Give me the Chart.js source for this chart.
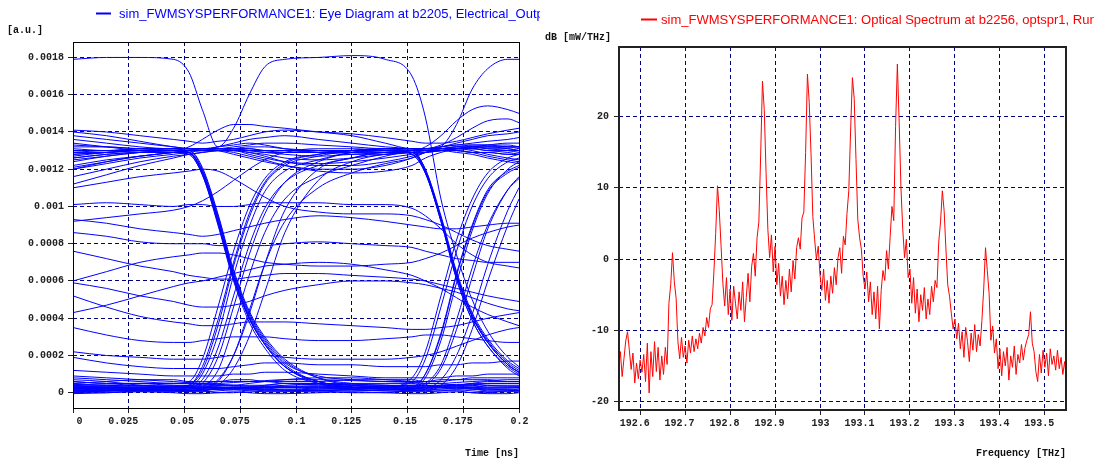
<!DOCTYPE html>
<html>
<head>
<meta charset="utf-8">
<script src="https://cdn.jsdelivr.net/npm/chart.js@4.4.1/dist/chart.umd.min.js"></script>
<style>
  html, body { margin: 0; padding: 0; background: #fff; }
  #wrap { position: relative; width: 1094px; height: 464px; overflow: hidden; }
  #eyeChart { position: absolute; left: 0; top: 0; }
  #specChart { position: absolute; left: 540px; top: 0; }
</style>
</head>
<body>
<div id="wrap">
  <canvas id="eyeChart" width="540" height="464"></canvas>
  <canvas id="specChart" width="554" height="464"></canvas>
</div>
<script>
// ---- eye diagram data (levels in units of 1e-4 a.u.) ----
const eyeTitle = 'sim_FWMSYSPERFORMANCE1: Eye Diagram at b2205, Electrical_Output, Run 1';
const eyeTimeTicks = [0, 0.025, 0.05, 0.075, 0.1, 0.125, 0.15, 0.175, 0.2];
const eyeLevelTicks = [0, 2, 4, 6, 8, 10, 12, 14, 16, 18];
const eyeLevelLabels = ['0', '0.0002', '0.0004', '0.0006', '0.0008', '0.001', '0.0012', '0.0014', '0.0016', '0.0018'];
const eyeTime = [0, 0.015, 0.03, 0.045, 0.052, 0.058, 0.065, 0.072, 0.079, 0.086, 0.095,
                 0.11, 0.125, 0.14, 0.152, 0.158, 0.165, 0.172, 0.179, 0.186, 0.195, 0.2];

const eyeTraces = [
  // "1" held through both slots
  [12.5,12.7,12.9,13.0, 13.0,13.1,13.1,13.1,13.1,13.0,12.9, 12.9,13.0,13.1, 13.1,13.1,13.1,13.1,13.1,13.0,13.0,13.0],
  [13.6,13.4,13.2,13.1, 13.1,13.1,13.1,13.2,13.3,13.4,13.4, 13.3,13.2,13.1, 13.1,13.1,13.2,13.3,13.4,13.5,13.6,13.7],
  [11.6,12.0,12.4,12.7, 12.8,12.9,13.0,13.0,12.9,12.8,12.6, 12.5,12.6,12.8, 12.9,13.0,13.0,12.9,12.8,12.6,12.4,12.3],
  [14.0,13.8,13.5,13.2, 13.1,13.0,13.0,13.0,12.9,12.7,12.4, 12.2,12.2,12.4, 12.7,12.9,13.0,13.1,13.2,13.3,13.4,13.4],
  [12.2,12.5,12.7,12.9, 13.0,13.0,13.2,13.4,13.6,13.7,13.8, 13.6,13.4,13.2, 13.1,13.0,13.0,13.0,12.9,12.9,12.8,12.8],
  [12.9,13.0,13.0,13.1, 13.1,13.1,13.0,12.8,12.6,12.4,12.2, 12.0,12.0,12.2, 12.6,12.9,13.1,13.2,13.3,13.3,13.3,13.2],
  [11.2,11.7,12.2,12.6, 12.8,12.9,13.0,13.1,13.2,13.2,13.1, 13.0,12.9,12.9, 13.0,13.0,13.1,13.2,13.2,13.1,13.0,12.9],
  [13.2,13.2,13.1,13.1, 13.0,13.0,13.0,12.9,12.7,12.5,12.2, 11.9,11.8,11.9, 12.2,12.6,12.9,13.1,13.2,13.2,13.2,13.1],
  [12.0,12.3,12.6,12.8, 12.9,13.0,13.0,13.0,12.8,12.6,12.4, 12.3,12.4,12.6, 12.8,12.9,13.0,13.0,12.9,12.7,12.5,12.4],
  [13.8,13.6,13.4,13.2, 13.1,13.1,13.2,13.3,13.4,13.3,13.1, 12.9,12.8,12.8, 12.9,13.0,13.1,13.1,13.0,12.8,12.6,12.5],
  // falling edge in the first slot
  [12.6,12.8,12.9,12.9, 12.9,11.9,9.3,6.3,4.1,2.7,1.5, 0.6,0.4,0.3, 0.3,0.3,0.4,0.4,0.5,0.5,0.5,0.5],
  [13.1,13.0,13.0,13.0, 12.9,11.8,9.2,6.2,4.0,2.6,1.4, 0.6,0.3,0.2, 0.3,1.0,3.2,6.4,9.0,10.9,11.9,12.2],
  [12.0,12.4,12.7,12.9, 13.0,12.0,9.5,6.5,4.3,2.9,1.7, 0.8,0.5,0.4, 0.4,0.4,0.3,0.3,0.3,0.4,0.4,0.4],
  [13.4,13.2,13.0,12.9, 12.8,11.7,9.0,6.0,3.8,2.4,1.2, 0.5,0.3,0.3, 0.2,0.4,1.3,3.4,6.2,8.8,10.9,11.6],
  [12.8,12.9,13.0,13.0, 12.9,11.9,9.4,6.4,4.2,2.8,1.6, 0.9,0.7,0.6, 0.6,0.6,0.7,0.7,0.8,0.8,0.8,0.8],
  [12.4,12.7,12.9,13.0, 13.0,12.1,9.6,6.6,4.4,3.0,1.8, 0.8,0.4,0.3, 0.2,0.8,2.8,5.9,8.7,10.7,12.0,12.4],
  [12.6,12.8,12.9,12.9, 12.8,11.7,9.1,6.1,4.0,2.6,1.4, 0.5,0.2,0.1, 0.1,0.2,0.7,2.0,4.2,6.9,9.8,11.0],
  [12.8,12.9,13.0,13.0, 12.9,11.8,9.2,6.2,4.0,2.6,1.4, 0.6,0.3,0.2, 0.1,0.1,0.4,1.4,3.4,6.0,9.0,10.4],
  // rising edge in the first slot
  [0.2,0.2,0.2,0.2, 0.3,1.0,3.1,6.3,8.9,10.8,11.9, 12.5,12.9,13.0, 13.1,13.1,13.0,13.0,12.9,12.9,12.8,12.8],
  [0.4,0.3,0.3,0.3, 0.3,0.7,2.4,5.2,7.9,9.9,11.3, 12.2,12.6,12.9, 12.9,11.9,9.3,6.3,4.1,2.7,1.5,1.1],
  [0.1,0.1,0.1,0.1, 0.1,0.3,1.2,3.6,6.3,8.6,10.4, 11.6,12.2,12.7, 13.0,13.1,13.2,13.3,13.3,13.3,13.2,13.2],
  [0.5,0.4,0.4,0.3, 0.4,1.2,3.6,6.8,9.4,11.2,12.2, 12.7,13.0,13.1, 12.8,11.8,9.2,6.1,3.9,2.5,1.4,1.0],
  [0.2,0.2,0.1,0.1, 0.1,0.2,0.6,2.0,4.4,6.9,9.2, 11.0,11.8,12.3, 12.6,12.9,13.0,13.1,13.1,13.0,12.9,12.8],
  [0.3,0.3,0.3,0.3, 0.4,1.4,3.9,7.0,9.6,11.3,12.3, 12.8,13.0,13.1, 13.1,13.1,13.2,13.4,13.6,13.8,13.9,14.0],
  [0.6,0.5,0.5,0.5, 0.6,1.8,4.6,7.6,10.0,11.5,12.4, 12.8,13.0,13.1, 13.1,13.0,13.0,13.1,13.1,13.2,13.2,13.2],
  [0.1,0.1,0.1,0.1, 0.1,0.2,0.7,2.0,4.2,6.9,9.8, 12.0,12.6,12.9, 12.9,11.8,9.3,6.3,4.1,2.7,1.5,1.1],
  [0.3,0.2,0.2,0.2, 0.2,0.5,1.9,4.6,7.4,9.6,11.3, 12.4,12.9,13.1, 13.1,13.1,13.1,13.2,13.2,13.1,13.1,13.0],
  [0.1,0.1,0.1,0.1, 0.1,0.1,0.4,1.3,3.0,5.4,8.6, 11.4,12.4,12.8, 12.9,12.0,9.4,6.4,4.2,2.8,1.6,1.2],
  // "0" level
  [0.1,0.1,0.2,0.2, 0.2,0.2,0.2,0.3,0.3,0.3,0.3, 0.2,0.2,0.2, 0.2,0.2,0.2,0.2,0.3,0.3,0.3,0.3],
  [0.6,0.5,0.5,0.4, 0.4,0.4,0.4,0.4,0.5,0.6,0.7, 0.8,0.8,0.7, 0.6,0.5,0.5,0.4,0.4,0.3,0.3,0.3],
  [0.3,0.3,0.2,0.2, 0.2,0.2,0.2,0.3,0.3,0.3,0.3, 0.3,0.3,0.3, 0.3,1.0,3.1,6.3,8.9,10.8,11.8,12.1],
  [0.8,0.7,0.6,0.5, 0.5,0.5,0.6,0.6,0.6,0.6,0.5, 0.4,0.4,0.4, 0.3,0.5,1.5,3.9,6.7,9.0,10.9,11.5],
  [1.2,1.1,1.0,0.9, 0.9,0.9,0.9,1.0,1.0,1.1,1.1, 1.0,0.9,0.8, 0.8,0.8,0.8,0.9,0.9,1.0,1.0,1.0],
  [0.0,0.0,0.1,0.1, 0.1,0.1,0.0,0.0,0.1,0.1,0.1, 0.1,0.0,0.0, 0.1,0.1,0.1,0.1,0.0,0.0,0.1,0.1],
  [0.4,0.4,0.5,0.5, 0.5,0.5,0.4,0.4,0.4,0.4,0.5, 0.5,0.5,0.5, 0.5,0.4,0.4,0.4,0.4,0.5,0.5,0.5],
  [0.2,0.3,0.4,0.4, 0.3,0.3,0.2,0.2,0.3,0.4,0.5, 0.5,0.4,0.3, 0.2,0.2,0.3,0.4,0.5,0.6,0.6,0.6],
  [0.7,0.6,0.4,0.3, 0.3,0.2,0.2,0.2,0.2,0.2,0.3, 0.3,0.2,0.2, 0.2,0.3,0.3,0.2,0.2,0.1,0.1,0.1],
  [0.0,0.1,0.2,0.3, 0.3,0.3,0.3,0.2,0.2,0.1,0.1, 0.1,0.2,0.3, 0.4,0.4,0.3,0.3,0.2,0.2,0.2,0.2],
  [0.5,0.6,0.7,0.7, 0.6,0.6,0.6,0.7,0.7,0.6,0.6, 0.6,0.7,0.7, 0.7,0.6,0.6,0.7,0.7,0.7,0.6,0.6],
  [0.05,0.1,0.15,0.1, 0.05,0.05,0.1,0.15,0.1,0.05,0.05, 0.1,0.15,0.1, 0.05,0.05,0.1,0.15,0.1,0.05,0.05,0.1],
  [0.35,0.3,0.25,0.3, 0.35,0.35,0.3,0.25,0.25,0.3,0.35, 0.35,0.3,0.25, 0.25,0.3,0.35,0.35,0.3,0.25,0.25,0.3],
  [0.15,0.2,0.25,0.2, 0.15,0.15,0.2,0.25,0.2,0.15,0.15, 0.2,0.25,0.2, 0.15,0.15,0.2,0.25,0.2,0.15,0.15,0.2],
  [0.45,0.4,0.35,0.35, 0.4,0.45,0.45,0.4,0.35,0.35,0.4, 0.45,0.45,0.4, 0.35,0.35,0.4,0.45,0.45,0.4,0.35,0.35],
  [-0.05,0.0,0.05,0.0, -0.05,-0.05,0.0,0.05,0.0,-0.05,-0.05, 0.0,0.05,0.0, -0.05,-0.05,0.0,0.05,0.0,-0.05,-0.05,0.0],
  [0.9,0.8,0.7,0.6, 0.55,0.5,0.5,0.55,0.6,0.65,0.7, 0.7,0.65,0.6, 0.55,0.5,0.5,0.55,0.6,0.65,0.7,0.7],
  [0.25,0.2,0.15,0.15, 0.2,0.25,0.3,0.3,0.25,0.2,0.15, 0.1,0.1,0.15, 0.2,0.25,0.3,0.3,0.25,0.2,0.15,0.1],
  [0.2,0.2,0.2,0.1, 0.1,0.1,0.2,0.2,0.2,0.2,0.2, 0.2,0.2,0.3, 0.6,1.8,4.6,7.6,10.0,11.5,12.4,12.6],
  [0.3,0.3,0.3,0.3, 0.3,0.3,0.3,0.3,0.3,0.3,0.3, 0.3,0.3,0.3, 0.8,2.2,5.2,8.2,10.4,11.8,12.6,12.8],
  // falling edge in the second slot
  [12.7,12.9,13.0,13.0, 13.0,13.0,13.1,13.1,13.0,12.9,12.9, 12.9,13.0,13.0, 12.9,11.9,9.3,6.3,4.1,2.7,1.5,1.1],
  [13.3,13.2,13.1,13.0, 13.0,13.0,13.0,13.0,13.0,12.9,12.8, 12.7,12.8,12.9, 13.0,12.0,9.5,6.5,4.3,2.9,1.7,1.3],
  [12.1,12.4,12.7,12.9, 13.0,13.1,13.1,13.1,13.1,13.0,13.0, 12.9,12.9,13.0, 12.8,11.8,9.2,6.1,3.9,2.5,1.3,0.9],
  // crosstalk traces at intermediate levels
  [10.1,10.2,10.1,10.0, 10.1,10.1,10.0,10.0,10.1,10.2,10.2, 10.2,10.1,10.1, 9.9,9.5,8.8,8.0,7.4,7.0,6.8,6.7],
  [9.3,9.1,8.8,8.6, 8.5,8.4,8.5,8.7,8.9,9.1,9.3, 9.5,9.4,9.2, 9.0,8.9,8.8,8.8,8.9,9.0,9.1,9.1],
  [8.6,8.4,8.1,8.0, 8.0,8.0,7.9,7.9,7.9,7.9,8.0, 8.1,8.0,7.9, 7.8,7.6,7.4,7.2,7.1,7.0,7.0,7.0],
  [6.0,6.5,7.0,7.3, 7.4,7.5,7.5,7.4,7.2,7.0,6.9, 6.8,6.8,6.9, 7.0,7.2,7.5,7.9,8.3,8.6,8.9,9.0],
  [5.9,5.6,5.2,4.9, 4.7,4.6,4.6,4.7,4.9,5.2,5.5, 5.8,6.0,6.0, 5.9,5.8,5.6,5.4,5.1,4.8,4.5,4.4],
  [5.2,4.6,4.1,3.8, 3.7,3.6,3.6,3.7,3.8,3.8,3.8, 3.7,3.6,3.5, 3.4,3.4,3.5,3.6,3.8,4.0,4.2,4.3],
  [4.3,4.7,5.2,5.7, 5.9,6.0,6.2,6.4,6.6,6.8,6.9, 7.0,6.9,6.6, 6.3,6.0,5.6,5.1,4.6,4.2,3.8,3.6],
  [3.5,3.1,2.8,2.7, 2.7,2.8,2.9,3.0,3.0,3.0,2.9, 2.8,2.8,2.9, 3.0,3.1,3.1,3.0,2.9,2.8,2.7,2.7],
  [2.2,2.0,1.9,1.8, 1.8,1.8,1.9,2.0,2.0,2.0,1.9, 1.8,1.8,1.8, 1.9,2.0,2.2,2.5,2.8,3.1,3.4,3.5],
  [1.9,1.6,1.4,1.3, 1.3,1.3,1.3,1.4,1.5,1.6,1.6, 1.5,1.5,1.4, 1.4,1.4,1.5,1.5,1.6,1.6,1.7,1.7],
  [11.0,11.3,11.6,11.8, 11.9,12.0,11.9,11.5,11.0,10.5,10.0, 9.7,9.6,9.6, 9.5,9.3,9.0,8.6,8.2,7.9,7.7,7.6],
  [14.1,14.0,13.8,13.6, 13.5,13.4,13.5,13.6,13.8,14.0,14.1, 14.0,13.9,13.7, 13.5,13.4,13.4,13.5,13.7,13.9,14.1,14.2],
  [9.2,9.4,9.6,9.8, 10.0,10.3,10.8,11.4,12.0,12.5,12.9, 13.1,13.1,13.0, 12.9,12.9,13.0,13.1,13.2,13.2,13.1,13.0],
  [7.6,7.2,6.8,6.5, 6.3,6.2,6.1,6.1,6.2,6.3,6.4, 6.4,6.3,6.2, 6.1,6.0,5.8,5.6,5.4,5.2,5.0,4.9],
  // overshoot traces up to 0.0018
  [17.9,18.0,18.0,17.9, 17.2,15.2,13.2,14.2,16.0,17.5,17.9, 18.0,18.1,17.9, 17.0,14.8,10.4,7.4,5.0,3.3,1.9,1.4],
  [13.0,13.0,13.1,13.1, 13.1,13.1,13.1,13.1,13.0,13.0,13.0, 13.0,13.0,13.0, 13.0,13.0,13.2,14.4,16.3,17.4,17.9,17.9],
  [13.0,13.0,13.1,13.1, 13.1,13.1,13.1,13.1,13.0,13.0,13.0, 13.0,13.0,13.0, 13.0,13.2,13.8,14.6,15.2,15.4,15.2,15.0],
  [12.9,12.9,13.0,13.0, 13.2,13.6,14.1,14.4,14.4,14.3,14.2, 14.0,13.8,13.4, 13.1,13.1,13.3,13.7,14.2,14.6,14.7,14.5]
];

// ---- optical spectrum data ----
const specTitle = 'sim_FWMSYSPERFORMANCE1: Optical Spectrum at b2256, optspr1, Run 1';
const specFreqTicks = [192.6, 192.7, 192.8, 192.9, 193, 193.1, 193.2, 193.3, 193.4, 193.5];
const specFreqLabels = ['192.6', '192.7', '192.8', '192.9', '193', '193.1', '193.2', '193.3', '193.4', '193.5'];
const specDbTicks = [-20, -10, 0, 10, 20];
const specDbLabels = ['-20', '-10', '0', '10', '20'];
const specStartTHz = 192.552;
const specStepTHz = 0.004;
const specDb = [
  -15.2,-13.0,-16.5,-14.0,-11.5,-10.2,-12.8,-15.5,-13.2,-17.4,-14.6,-16.8,-14.2,-15.9,-13.4,-17.2,-11.8,-18.8,-13.0,-16.5,-11.6,-15.8,-12.4,-17.0,-13.6,
  -16.2,-12.4,-14.8,-6.2,-3.6,0.9,-3.2,-5.5,-11.6,-14.0,-11.0,-13.8,-12.2,-14.6,-11.4,-13.2,-10.8,-13.0,-11.2,-12.6,-10.4,-11.8,-9.6,-10.8,-8.2,
  -9.6,-7.0,-6.4,-1.8,3.6,10.3,6.8,1.8,-3.4,-6.6,-2.6,-7.8,-4.2,-8.6,-3.8,-6.2,-8.4,-4.6,-7.2,-3.2,-8.8,-5.4,-2.0,-6.0,-1.0,
  0.8,-2.4,3.0,5.2,14.5,25.0,21.0,12.2,4.2,0.2,3.4,-1.8,1.8,-3.6,-0.6,-5.2,-2.4,-6.4,-3.0,-5.6,-1.4,-4.6,-0.2,-2.8,1.6,
  3.0,1.4,5.8,6.6,15.0,26.0,22.0,14.8,6.0,2.8,0.0,1.8,-2.2,-4.4,-1.4,-5.8,-3.0,-6.2,-2.4,-4.8,-1.2,-3.6,0.2,1.6,-2.0,
  3.2,2.0,6.4,9.6,18.0,25.5,22.6,14.0,5.6,3.0,1.4,-2.4,-4.2,-1.8,-6.0,-3.2,-7.8,-4.6,-8.4,-3.8,-9.8,-4.4,-1.6,-3.0,1.2,
  -1.4,3.2,7.4,5.4,18.6,27.4,19.2,10.0,4.2,0.2,2.8,-2.6,-1.4,-6.2,-2.6,-7.6,-4.2,-8.8,-5.0,-7.2,-4.0,-8.4,-5.6,-7.8,-3.8,
  -6.0,-3.0,-4.0,2.4,5.2,9.6,6.8,1.4,-3.6,-5.2,-7.6,-9.8,-8.4,-11.2,-9.0,-12.6,-10.2,-13.8,-9.6,-11.6,-14.4,-10.4,-12.8,-9.2,-13.0,
  -10.6,-12.2,-8.6,-4.2,1.6,-1.6,-4.8,-11.4,-9.4,-13.2,-11.2,-15.4,-12.6,-16.4,-13.0,-15.0,-12.4,-17.0,-13.6,-15.2,-12.2,-16.2,-13.4,-14.6,-12.0,
  -14.2,-12.4,-11.4,-10.6,-7.4,-11.8,-13.0,-15.8,-17.2,-13.4,-16.0,-12.8,-15.2,-13.2,-16.4,-12.6,-14.8,-13.6,-15.6,-12.8,-15.4,-13.8,-16.2,-14.4,-16.8
];

// ---- shared styling ----
const monoFont = { family: '"Liberation Mono", "DejaVu Sans Mono", monospace', size: 10, weight: 'bold' };
const gridColor = '#000080';

function fixedTicks(values) {
  return scale => { scale.ticks = values.map(v => ({ value: v })); };
}

// frame, header line + title, unit label and axis title
function makeDecor(cfg) {
  return {
    id: 'panelDecor',
    afterDraw(chart) {
      const ctx = chart.ctx;
      const a = chart.chartArea;
      ctx.save();
      ctx.strokeStyle = cfg.frameColor;
      ctx.lineWidth = cfg.frameWidth;
      const off = cfg.frameWidth % 2 ? 0.5 : 0;
      ctx.strokeRect(Math.round(a.left) + off, Math.round(a.top) + off,
        Math.round(a.right - a.left), Math.round(a.bottom - a.top));

      ctx.strokeStyle = cfg.color;
      ctx.lineWidth = 2;
      ctx.beginPath();
      ctx.moveTo(cfg.lineX0, cfg.lineY);
      ctx.lineTo(cfg.lineX1, cfg.lineY);
      ctx.stroke();

      ctx.fillStyle = cfg.color;
      ctx.font = '13px "Liberation Sans", Arial, sans-serif';
      ctx.textBaseline = 'middle';
      ctx.textAlign = 'left';
      ctx.fillText(cfg.title, cfg.textX, cfg.textY);

      ctx.fillStyle = '#111';
      ctx.font = 'bold 10px "Liberation Mono", monospace';
      ctx.fillText(cfg.unit, cfg.unitX, cfg.unitY);
      ctx.textAlign = 'right';
      ctx.fillText(cfg.axisTitle, Math.round(a.right), cfg.axisTitleY);
      ctx.restore();
    }
  };
}

// ---- eye diagram ----
new Chart(document.getElementById('eyeChart'), {
  type: 'line',
  data: {
    datasets: eyeTraces.map(tr => ({
      data: tr.map((v, k) => ({ x: eyeTime[k], y: v })),
      borderColor: '#0000ff',
      borderWidth: 1,
      pointRadius: 0,
      cubicInterpolationMode: 'monotone',
      fill: false
    }))
  },
  options: {
    responsive: false,
    animation: false,
    events: [],
    layout: { padding: { top: 42, right: 21, left: 0, bottom: 0 } },
    plugins: { legend: { display: false }, tooltip: { enabled: false } },
    scales: {
      x: {
        type: 'linear', min: 0, max: 0.2,
        afterBuildTicks: fixedTicks(eyeTimeTicks),
        afterFit: s => { s.height = 56; },
        grid: { color: gridColor, lineWidth: 1, tickLength: 5, tickColor: '#222' },
        border: { display: false, dash: [4, 3] },
        ticks: {
          font: monoFont, color: '#222', align: 'end', labelOffset: 9.5, padding: 2.5,
          maxRotation: 0, autoSkip: false,
          callback: v => String(+v.toFixed(3))
        }
      },
      y: {
        type: 'linear', min: -0.82, max: 18.83,
        afterBuildTicks: fixedTicks(eyeLevelTicks),
        afterFit: s => { s.width = 73; },
        grid: { color: gridColor, lineWidth: 1, tickLength: 5, tickColor: '#222' },
        border: { display: false, dash: [4, 3] },
        ticks: {
          font: monoFont, color: '#222', padding: 4, autoSkip: false,
          callback: (v, i) => eyeLevelLabels[i]
        }
      }
    }
  },
  plugins: [makeDecor({
    color: '#0000ff', title: eyeTitle,
    lineX0: 96, lineX1: 111, lineY: 13.5, textX: 119, textY: 14,
    unit: '[a.u.]', unitX: 7, unitY: 30,
    axisTitle: 'Time [ns]', axisTitleY: 453,
    frameColor: '#000', frameWidth: 1
  })]
});

// ---- optical spectrum ----
new Chart(document.getElementById('specChart'), {
  type: 'line',
  data: {
    datasets: [{
      data: specDb.map((v, i) => ({ x: specStartTHz + i * specStepTHz, y: v })),
      borderColor: '#ff0000',
      borderWidth: 1,
      pointRadius: 0,
      tension: 0,
      fill: false
    }]
  },
  options: {
    responsive: false,
    animation: false,
    events: [],
    layout: { padding: { top: 47, right: 28, left: 0, bottom: 0 } },
    plugins: { legend: { display: false }, tooltip: { enabled: false } },
    scales: {
      x: {
        type: 'linear', min: 192.553, max: 193.547,
        afterBuildTicks: fixedTicks(specFreqTicks),
        afterFit: s => { s.height = 54; },
        grid: { color: gridColor, lineWidth: 1, tickLength: 5, tickColor: '#222' },
        border: { display: false, dash: [4, 3] },
        ticks: {
          font: monoFont, color: '#222', align: 'end', labelOffset: 9.5, padding: 2,
          maxRotation: 0, autoSkip: false,
          callback: (v, i) => specFreqLabels[i]
        }
      },
      y: {
        type: 'linear', min: -21.2, max: 29.8,
        afterBuildTicks: fixedTicks(specDbTicks),
        afterFit: s => { s.width = 79; },
        grid: { color: gridColor, lineWidth: 1, tickLength: 5, tickColor: '#222' },
        border: { display: false, dash: [4, 3] },
        ticks: {
          font: monoFont, color: '#222', padding: 5, autoSkip: false,
          callback: (v, i) => specDbLabels[i]
        }
      }
    }
  },
  plugins: [makeDecor({
    color: '#ff0000', title: specTitle,
    lineX0: 101, lineX1: 117, lineY: 19.5, textX: 121, textY: 20,
    unit: 'dB [mW/THz]', unitX: 5, unitY: 37,
    axisTitle: 'Frequency [THz]', axisTitleY: 453,
    frameColor: '#222', frameWidth: 2
  })]
});
</script>
</body>
</html>
